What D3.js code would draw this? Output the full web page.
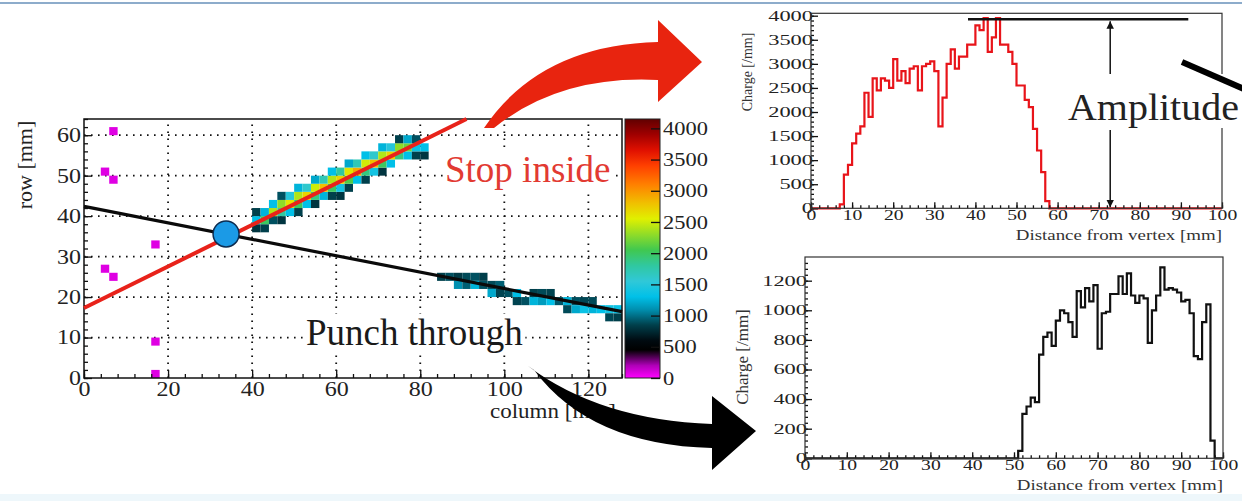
<!DOCTYPE html>
<html>
<head>
<meta charset="utf-8">
<script src="https://cdn.jsdelivr.net/npm/d3@7"></script>
<style>
  body { margin: 0; background: #fff; }
  svg { display: block; font-family: "Liberation Serif", "Times New Roman", serif; }
  svg text { font-family: "Liberation Serif", "Times New Roman", serif; }
</style>
</head>
<body>
<svg id="chart" width="1242" height="501"></svg>
<script>
//// Data
// heat map hits: [column bin start, row bin start, charge], bins are 2 x 2 mm
const strayHits = [[6,60,80],[4,50,80],[6,48,80],[16,32,80],[4,26,80],[6,24,80],[16,8,80],[16,0,80]];
const stopTrackHits = [
  [40,36,800],[40,38,1300],[40,40,850],
  [42,36,850],[42,38,2000],[42,40,1250],
  [44,38,900],[44,40,2400],[44,42,1300],
  [46,38,800],[46,40,1800],[46,42,2300],[46,44,900],
  [48,40,1300],[48,42,2600],[48,44,1500],
  [50,40,850],[50,42,2000],[50,44,2400],[50,46,1250],
  [52,42,1300],[52,44,2700],[52,46,1600],
  [54,42,800],[54,44,1900],[54,46,2500],[54,48,1200],
  [56,44,1250],[56,46,2800],[56,48,1700],
  [58,44,850],[58,46,2000],[58,48,2400],[58,50,1300],
  [60,44,800],[60,46,1400],[60,48,2700],[60,50,1800],
  [62,46,850],[62,48,2100],[62,50,2600],[62,52,1200],
  [64,48,1300],[64,50,2900],[64,52,1700],
  [66,48,850],[66,50,1900],[66,52,2500],[66,54,1300],
  [68,50,1400],[68,52,2800],[68,54,1600],
  [70,50,800],[70,52,2000],[70,54,2400],[70,56,1250],
  [72,52,1300],[72,54,2700],[72,56,1500],
  [74,54,1900],[74,56,2300],[74,58,850],
  [76,54,1300],[76,56,2200],[76,58,1200],
  [78,54,850],[78,56,1350],[78,58,900],
  [80,54,800],[80,56,1300]
];
const punchTrackHits = [
  [84,24,850],[86,24,900],[88,24,820],[88,22,1100],[90,24,880],[90,22,950],
  [92,24,900],[92,22,1250],[94,24,840],[94,22,900],[96,22,880],[96,20,1200],
  [98,22,950],[98,20,860],[100,20,900],[102,20,1300],[102,18,860],[104,18,900],
  [106,18,1250],[106,20,850],[108,20,880],[108,18,1150],[110,20,860],[110,18,1300],
  [112,18,920],[114,18,1250],[114,16,880],[116,18,900],[116,16,1200],[118,16,1350],
  [118,18,870],[120,16,1250],[120,18,880],[122,16,1300],[124,16,1400],[124,14,870],
  [126,14,840],[126,16,1350]
];
const stopFit = [[0,17.3],[91,64]];
const punchFit = [[0,42.4],[128,16.4]];
const vertex = [33.8,35.6];

// colour palette
const paletteValues = [0,200,450,600,850,1100,1300,1550,1800,2050,2350,2550,2800,3100,3400,3650,3900,4150];
const paletteColors = ['#ff00ff','#b000b8','#000000','#000a10','#00404c','#0090b0','#00c0e8','#30c8d8','#30c8a0',
  '#40c850','#a0e020','#e0f000','#f0c000','#ff8000','#ff4000','#e01000','#a00000','#600000'];
const colorTicks = [0,500,1000,1500,2000,2500,3000,3500,4000];

// charge profiles, 1 mm bins from 0 to 100 mm
const stopCharge = [
  0,0,0,0,0,0,0,80,700,900,
  1350,1550,1700,2400,1900,2700,2450,2700,2650,2500,
  3100,2650,2850,2600,2900,2950,2450,2950,3000,3050,
  2850,1700,2300,3000,3300,2900,3150,3150,3400,3400,
  3800,3700,3950,3250,3550,3950,3400,3400,3250,3000,
  2550,2550,2250,2100,1650,1200,750,150,0,0,
  0,0,0,0,0,0,0,0,0,0,
  0,0,0,0,0,0,0,0,0,0,
  0,0,0,0,0,0,0,0,0,0,
  0,0,0,0,0,0,0,0,0,0
];
const punchCharge = [
  0,0,0,0,0,0,0,0,0,0,
  0,0,0,0,0,0,0,0,0,0,
  0,0,0,0,0,0,0,0,0,0,
  0,0,0,0,0,0,0,0,0,0,
  0,0,0,0,0,0,0,0,0,0,
  0,50,300,350,410,380,700,820,850,760,
  930,1000,980,920,820,1130,1020,1150,1060,1170,
  740,980,990,1110,1110,1230,1110,1250,1100,1050,
  1100,1080,780,1000,1100,1290,1140,1150,1140,1120,
  1060,1070,980,690,670,920,1040,120,0,0
];
const amplitudeLevel = 3925;
const amplitudeSpan = [38.2, 91.8];
const amplitudeX = 72.8;

//// Setup
const svg = d3.select('#chart');
const fmt = d3.format('d');
const stretch = (sel, k) => sel.each(function() {
  const w = this.getComputedTextLength();
  d3.select(this).attr('textLength', w * k).attr('lengthAdjust', 'spacingAndGlyphs');
});
// white box behind a text label
const boxed = (sel, pad) => sel.each(function() {
  const b = this.getBBox();
  d3.select(this.parentNode).insert('rect', () => this)
    .attr('x', b.x - pad).attr('y', b.y + 2).attr('width', b.width + 2 * pad).attr('height', b.height - 2)
    .attr('fill', '#fff');
});

svg.append('rect').attr('x', 0).attr('y', 494).attr('width', 1242).attr('height', 7).attr('fill', '#eef7fb');
svg.append('line').attr('x1', 0).attr('x2', 1242).attr('y1', 3).attr('y2', 3)
  .attr('stroke', '#8daccb').attr('stroke-width', 2);

//// Heat map
const xScale = d3.scaleLinear().domain([0, 128]).range([84, 622]);
const yScale = d3.scaleLinear().domain([0, 64]).range([378, 119]);
const colorScale = d3.scaleLinear().domain(paletteValues).range(paletteColors).clamp(true);

const heat = svg.append('g');
const grid = heat.append('g').attr('stroke', '#111').attr('stroke-width', 1.8).attr('stroke-dasharray', '1.6,5.4');
grid.selectAll('.gx').data(d3.range(20, 128, 20)).enter().append('line')
  .attr('x1', d => xScale(d)).attr('x2', d => xScale(d)).attr('y1', yScale(0)).attr('y2', yScale(64));
grid.selectAll('.gy').data(d3.range(10, 64, 10)).enter().append('line')
  .attr('y1', d => yScale(d)).attr('y2', d => yScale(d)).attr('x1', xScale(0)).attr('x2', xScale(128));

const allHits = strayHits.concat(stopTrackHits, punchTrackHits);
heat.selectAll('rect.hit').data(allHits).enter().append('rect')
  .attr('class', 'hit')
  .attr('x', d => xScale(d[0]))
  .attr('y', d => yScale(d[1] + 2))
  .attr('width', xScale(2) - xScale(0))
  .attr('height', yScale(0) - yScale(2))
  .attr('fill', d => colorScale(d[2]));

// axes, ROOT style ticks inside
const xMinor = d3.axisBottom(xScale).tickValues(d3.range(0, 129, 4)).tickSize(-4).tickFormat('').tickSizeOuter(0);
const xMajor = d3.axisBottom(xScale).tickValues(d3.range(0, 121, 20)).tickSize(-8).tickPadding(4).tickSizeOuter(0).tickFormat(fmt);
const yMinor = d3.axisLeft(yScale).tickValues(d3.range(0, 65, 2)).tickSize(-4).tickFormat('').tickSizeOuter(0);
const yMajor = d3.axisLeft(yScale).tickValues(d3.range(0, 61, 10)).tickSize(-8).tickPadding(3).tickSizeOuter(0).tickFormat(fmt);

function styleAxis(g, size) {
  g.attr('font-family', null);
  g.select('.domain').remove();
  g.selectAll('line').attr('stroke', '#111').attr('stroke-width', 1.3);
  g.selectAll('text').attr('font-size', size).attr('fill', '#222');
}
heat.append('g').attr('transform', `translate(0,${yScale(0)})`).call(xMinor).call(g => styleAxis(g, 20));
heat.append('g').attr('transform', `translate(0,${yScale(0)})`).call(xMajor).call(g => styleAxis(g, 20))
  .selectAll('text').call(stretch, 1.2);
heat.append('g').attr('transform', `translate(${xScale(0)},0)`).call(yMinor).call(g => styleAxis(g, 20));
heat.append('g').attr('transform', `translate(${xScale(0)},0)`).call(yMajor).call(g => styleAxis(g, 20))
  .selectAll('text').call(stretch, 1.2);

heat.append('rect').attr('x', xScale(0)).attr('y', yScale(64))
  .attr('width', xScale(128) - xScale(0)).attr('height', yScale(0) - yScale(64))
  .attr('fill', 'none').attr('stroke', '#111').attr('stroke-width', 1.5);

heat.append('text').attr('transform', 'translate(32,165) rotate(-90)').attr('text-anchor', 'middle')
  .attr('font-size', 22).attr('fill', '#222').text('row [mm]');
heat.append('text').attr('x', 490).attr('y', 418).attr('font-size', 20).attr('fill', '#222')
  .text('column [mm]').call(stretch, 1.15);

// fitted lines and vertex
const fitLine = d3.line().x(d => xScale(d[0])).y(d => yScale(d[1]));
heat.append('path').attr('d', fitLine(punchFit)).attr('stroke', '#0a0a0a').attr('stroke-width', 3.2).attr('fill', 'none');
heat.append('path').attr('d', fitLine(stopFit)).attr('stroke', '#e8221a').attr('stroke-width', 4).attr('fill', 'none');
heat.append('circle').attr('cx', xScale(vertex[0])).attr('cy', yScale(vertex[1])).attr('r', 13)
  .attr('fill', '#1b9ae6').attr('stroke', '#0c2c50').attr('stroke-width', 1.5);

// colour bar
const cScale = d3.scaleLinear().domain([0, 4150]).range([378, 119]);
const defs = svg.append('defs');
const grad = defs.append('linearGradient').attr('id', 'pal').attr('x1', 0).attr('x2', 0).attr('y1', 1).attr('y2', 0);
grad.selectAll('stop').data(paletteValues).enter().append('stop')
  .attr('offset', d => d / 4150).attr('stop-color', (d, i) => paletteColors[i]);
svg.append('rect').attr('x', 625).attr('y', cScale(4150)).attr('width', 35).attr('height', cScale(0) - cScale(4150))
  .attr('fill', 'url(#pal)').attr('stroke', '#222').attr('stroke-width', 1);
const cAxis = d3.axisRight(cScale).tickValues(colorTicks).tickSize(-9).tickPadding(3).tickSizeOuter(0).tickFormat(fmt);
svg.append('g').attr('transform', 'translate(660,0)').call(cAxis).call(g => styleAxis(g, 19))
  .selectAll('text').call(stretch, 1.18);

//// Charge profiles
function profile(y0, y1, x0, x1, yMax, data, color, yMajorStep, yMinorStep) {
  const x = d3.scaleLinear().domain([0, 100]).range([x0, x1]);
  const y = d3.scaleLinear().domain([0, yMax]).range([y1, y0]);
  const g = svg.append('g');
  const pts = data.map((v, i) => [i, v]).concat([[100, data[data.length - 1]]]);
  g.append('path').attr('d', d3.line().x(d => x(d[0])).y(d => y(d[1])).curve(d3.curveStepAfter)(pts))
    .attr('fill', 'none').attr('stroke', color).attr('stroke-width', 2.2);

  g.append('g').attr('transform', `translate(0,${y1})`)
    .call(d3.axisBottom(x).tickValues(d3.range(0, 101, 2)).tickSize(-3).tickFormat('').tickSizeOuter(0))
    .call(a => styleAxis(a, 14));
  g.append('g').attr('transform', `translate(0,${y1})`)
    .call(d3.axisBottom(x).tickValues(d3.range(0, 101, 10)).tickSize(-6).tickPadding(2).tickSizeOuter(0).tickFormat(fmt))
    .call(a => styleAxis(a, 14)).selectAll('text').call(stretch, 1.4);
  g.append('g').attr('transform', `translate(${x0},0)`)
    .call(d3.axisLeft(y).tickValues(d3.range(0, yMax, yMinorStep)).tickSize(-3).tickFormat('').tickSizeOuter(0))
    .call(a => styleAxis(a, 14));
  g.append('g').attr('transform', `translate(${x0},0)`)
    .call(d3.axisLeft(y).tickValues(d3.range(0, yMax, yMajorStep)).tickSize(-7).tickPadding(-2).tickSizeOuter(0).tickFormat(fmt))
    .call(a => styleAxis(a, 14)).selectAll('text').call(stretch, 1.6);

  g.append('rect').attr('x', x0).attr('y', y0).attr('width', x1 - x0).attr('height', y1 - y0)
    .attr('fill', 'none').attr('stroke', '#333').attr('stroke-width', 1.2);
  g.append('text').attr('x', x1).attr('y', y1 + 32).attr('text-anchor', 'end')
    .attr('font-size', 14).attr('fill', '#333').text('Distance from vertex [mm]').call(stretch, 1.35);
  return { x, y, g };
}

const stopPanel = profile(13.3, 208.3, 811, 1222, 4050, stopCharge, '#e8141a', 500, 100);
stopPanel.g.append('text').attr('transform', 'translate(752,72) rotate(-90)').attr('text-anchor', 'middle')
  .attr('font-size', 14).attr('fill', '#333').text('Charge [/mm]');
const punchPanel = profile(257, 458.3, 805, 1223, 1360, punchCharge, '#111', 200, 40);
punchPanel.g.append('text').attr('transform', 'translate(748,357) rotate(-90)').attr('text-anchor', 'middle')
  .attr('font-size', 17).attr('fill', '#333').text('Charge [/mm]');

// amplitude marker
defs.append('marker').attr('id', 'head').attr('viewBox', '0 0 10 10').attr('refX', 10).attr('refY', 5)
  .attr('markerWidth', 5).attr('markerHeight', 6).attr('orient', 'auto-start-reverse')
  .append('path').attr('d', 'M0,0L10,5L0,10Z').attr('fill', '#111');
const sp = stopPanel;
sp.g.append('line').attr('x1', sp.x(amplitudeSpan[0])).attr('x2', sp.x(amplitudeSpan[1]))
  .attr('y1', sp.y(amplitudeLevel)).attr('y2', sp.y(amplitudeLevel)).attr('stroke', '#111').attr('stroke-width', 2.5);
sp.g.append('line').attr('x1', sp.x(amplitudeX)).attr('x2', sp.x(amplitudeX))
  .attr('y1', 77).attr('y2', sp.y(amplitudeLevel) + 2).attr('stroke', '#111').attr('stroke-width', 1.5)
  .attr('marker-end', 'url(#head)');
sp.g.append('line').attr('x1', sp.x(amplitudeX)).attr('x2', sp.x(amplitudeX))
  .attr('y1', 130).attr('y2', sp.y(0) - 1).attr('stroke', '#111').attr('stroke-width', 1.5)
  .attr('marker-end', 'url(#head)');
svg.append('rect').attr('x', 1062).attr('y', 74).attr('width', 180).attr('height', 54).attr('fill', '#fff');
svg.append('text').attr('x', 1068).attr('y', 120).attr('font-size', 37).attr('fill', '#222')
  .text('Amplitude').call(stretch, 1.08);
svg.append('line').attr('x1', 1182).attr('y1', 62).attr('x2', 1244).attr('y2', 89)
  .attr('stroke', '#000').attr('stroke-width', 6);

//// Labels and arrows
svg.append('text').attr('x', 445).attr('y', 182).attr('font-size', 37).attr('fill', '#e23a32')
  .text('Stop inside').call(boxed, 2);
svg.append('text').attr('x', 306).attr('y', 345).attr('font-size', 37).attr('fill', '#1a1a1a')
  .text('Punch through').call(boxed, 2);

// curved block arrows: [tail, upper control, neck top, head top, tip, head bottom, neck bottom, lower control, tail end]
const redArrow = [[484,128],[540,45],[658,42],[658,20],[702,62],[658,102],[658,80],[560,75],[494,128]];
const blackArrow = [[528,366],[600,420],[712,424],[712,396],[756,431],[712,470],[712,448],[590,445],[534,370]];
function arrowPath(p) {
  const path = d3.path();
  path.moveTo(...p[0]);
  path.quadraticCurveTo(...p[1], ...p[2]);
  path.lineTo(...p[3]); path.lineTo(...p[4]); path.lineTo(...p[5]); path.lineTo(...p[6]);
  path.quadraticCurveTo(...p[7], ...p[8]);
  path.closePath();
  return path.toString();
}
svg.append('path').attr('d', arrowPath(redArrow)).attr('fill', '#e8240f');
svg.append('path').attr('d', arrowPath(blackArrow)).attr('fill', '#000');
</script>
</body>
</html>
